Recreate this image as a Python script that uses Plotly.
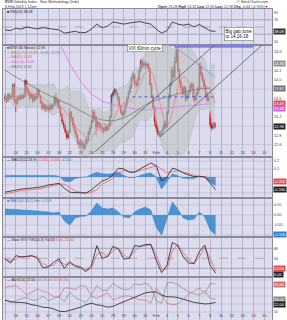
import plotly.graph_objects as go
import pandas as pd

W, H = 287, 320
PL, PR = 3, 272  # plot area left/right in px

day_labels = ["11", "14", "15", "16", "17", "18", "22", "23", "24", "25", "28", "29", "30", "31",
              "Feb", "4", "5", "6", "7", "8", "11", "12", "13", "14", "15"]
BARS_PER_DAY = 7

closes = [
    13.62, 13.55, 13.68, 13.60, 13.64, 13.88, 13.55,
    13.48, 13.62, 13.58, 13.66, 13.60, 13.64, 13.98,
    13.80, 13.72, 13.62, 13.68, 13.55, 13.64, 13.60,
    13.78, 13.66, 13.52, 13.40, 13.46, 13.36, 13.42,
    13.36, 13.44, 13.38, 13.46, 13.62, 13.50, 13.56,
    13.40, 13.26, 13.10, 13.02, 12.88, 12.76, 12.86,
    13.30, 13.18, 13.02, 12.90, 12.80, 12.66, 12.60,
    12.66, 12.58, 12.52, 12.62, 12.70, 12.84, 12.96,
    13.10, 13.30, 13.20, 12.98, 13.08, 13.02, 12.96,
    12.94, 12.90, 12.98, 12.92, 13.00, 13.20, 13.66,
    13.72, 13.78, 13.70, 13.62, 13.44, 13.30, 13.24,
    13.30, 13.46, 13.60, 13.72, 13.84, 14.04, 14.12,
    13.92, 13.88, 14.00, 14.20, 14.40, 14.30, 14.36,
    14.30, 14.34, 14.24, 13.90, 13.64, 13.40, 13.10,
    12.96, 12.86, 12.80, 12.84, 12.92, 13.04, 12.98,
    13.30, 13.62, 13.90, 14.20, 14.06, 14.40, 14.64,
    14.22, 13.96, 13.82, 13.70, 13.84, 13.58, 13.66,
    13.74, 13.86, 13.90, 13.62, 13.56, 13.70, 13.80,
    14.30, 14.12, 14.00, 13.86, 13.70, 13.56, 13.62,
    13.02, 12.96, 13.06, 12.98,
]
highs = [
    13.70, 13.66, 13.72, 13.70, 13.68, 13.92, 13.93,
    13.58, 13.66, 13.66, 13.70, 13.68, 13.70, 14.01,
    13.98, 13.84, 13.76, 13.72, 13.70, 13.68, 13.70,
    13.82, 13.80, 13.68, 13.55, 13.50, 13.48, 13.46,
    13.46, 13.48, 13.46, 13.50, 13.66, 13.72, 13.62,
    13.58, 13.42, 13.28, 13.14, 13.04, 12.92, 12.92,
    13.38, 13.32, 13.20, 13.06, 12.94, 12.84, 12.72,
    12.72, 12.70, 12.64, 12.72, 12.78, 12.90, 13.02,
    13.14, 13.36, 13.34, 13.22, 13.12, 13.10, 13.06,
    13.02, 12.98, 13.04, 13.00, 13.06, 13.24, 13.70,
    13.76, 13.82, 13.80, 13.74, 13.64, 13.46, 13.34,
    13.36, 13.50, 13.64, 13.76, 13.90, 14.08, 14.18,
    14.14, 13.98, 14.06, 14.26, 14.44, 14.46, 14.40,
    14.40, 14.38, 14.36, 14.28, 13.94, 13.68, 13.44,
    13.14, 13.00, 12.90, 12.90, 12.98, 13.12, 13.10,
    13.34, 13.70, 13.96, 14.28, 14.30, 14.50, 14.72,
    14.66, 14.24, 14.00, 13.86, 13.88, 13.86, 13.72,
    13.78, 13.92, 13.96, 13.94, 13.66, 13.74, 13.86,
    14.36, 14.38, 14.16, 14.04, 13.92, 13.74, 13.68,
    13.32, 13.08, 13.10, 13.08,
]
lows = [
    13.52, 13.50, 13.53, 13.56, 13.57, 13.62, 13.50,
    13.30, 13.45, 13.54, 13.56, 13.56, 13.58, 13.62,
    13.72, 13.66, 13.55, 13.58, 13.50, 13.52, 13.55,
    13.58, 13.62, 13.48, 13.34, 13.36, 13.30, 13.34,
    13.30, 13.32, 13.33, 13.36, 13.44, 13.46, 13.40,
    13.36, 13.20, 13.04, 12.94, 12.84, 12.70, 12.72,
    12.84, 13.10, 12.96, 12.84, 12.74, 12.60, 12.52,
    12.52, 12.48, 12.46, 12.50, 12.60, 12.66, 12.80,
    12.94, 13.06, 13.12, 12.80, 12.94, 12.96, 12.90,
    12.86, 12.84, 12.88, 12.86, 12.90, 12.98, 13.18,
    13.60, 13.66, 13.64, 13.54, 13.40, 13.26, 13.18,
    13.20, 13.26, 13.42, 13.56, 13.68, 13.80, 13.98,
    13.86, 13.82, 13.86, 13.98, 14.16, 14.24, 14.26,
    14.22, 14.24, 14.18, 13.86, 13.60, 13.36, 13.00,
    12.90, 12.80, 12.76, 12.78, 12.82, 12.90, 12.94,
    12.96, 13.26, 13.58, 13.86, 13.98, 14.02, 14.36,
    14.16, 13.92, 13.76, 13.66, 13.66, 13.52, 13.54,
    13.60, 13.70, 13.80, 13.54, 13.50, 13.54, 13.66,
    13.78, 14.06, 13.94, 13.80, 13.62, 13.50, 13.52,
    12.96, 12.90, 12.94, 12.95,
]
first_open = 13.60
gap_open_bar = 133
gap_open_price = 13.28

# longer moving averages (one value per day)
ma50_day = [14.21, 14.06, 13.93, 13.80, 13.67, 13.56, 13.46, 13.33, 13.20, 13.13,
            13.11, 13.17, 13.30, 13.46, 13.56, 13.63, 13.69, 13.76, 13.80, 13.82]
ma200_day = [16.60, 16.20, 15.80, 15.45, 15.10, 14.82, 14.34, 13.97, 13.69, 13.54,
             13.46, 13.41, 13.37, 13.35, 13.37, 13.39, 13.41, 13.43, 13.46, 13.48]

# indicators, two readings per day
rsi = [42, 40, 47, 44, 50, 47, 45, 48, 46, 45, 42, 33, 36, 38, 34, 35, 44, 58, 48, 52,
       64, 62, 58, 61, 63, 65, 61, 58, 44, 33, 40, 64, 58, 55, 58, 50, 57, 47, 39, 38.08]
macd = [-0.19, -0.175, -0.16, -0.15, -0.145, -0.14, -0.13, -0.12, -0.10, -0.09,
        -0.08, -0.14, -0.19, -0.195, -0.195, -0.20, -0.16, -0.10, -0.05, -0.025,
        0.025, 0.11, 0.10, 0.06, 0.06, 0.10, 0.14, 0.175, 0.14, -0.05,
        0.0, 0.11, 0.09, 0.05, 0.025, 0.005, 0.01, 0.0, -0.075, -0.16]
macd_signal = [-0.21, -0.195, -0.18, -0.17, -0.165, -0.16, -0.15, -0.14, -0.125, -0.11,
               -0.09, -0.09, -0.13, -0.175, -0.19, -0.20, -0.19, -0.16, -0.09, -0.06,
               -0.02, 0.05, 0.08, 0.07, 0.065, 0.08, 0.10, 0.125, 0.14, 0.10,
               0.05, 0.07, 0.075, 0.065, 0.045, 0.025, 0.0, 0.005, -0.01, -0.05]
hist2 = [0.030, 0.030, 0.028, 0.025, 0.025, 0.022, 0.020, 0.018, 0.015, 0.010,
         0.015, -0.030, -0.050, -0.015, -0.008, -0.005, 0.020, 0.060, 0.035, 0.030,
         0.035, 0.015, -0.010, -0.015, 0.015, 0.030, 0.040, 0.025, -0.060, -0.100,
         -0.020, 0.065, 0.030, -0.015, -0.025, -0.020, 0.015, -0.010, -0.075, -0.100]
stoch_k = [48, 36, 58, 54, 56, 58, 50, 22, 24, 38, 48, 20, 40, 26, 22, 10, 28, 88, 50, 55,
           86, 78, 48, 50, 88, 86, 91, 92, 45, 7, 30, 98, 88, 55, 36, 34, 70, 90, 28, 6]
stoch_d = [50, 42, 48, 55, 55, 57, 54, 35, 26, 30, 42, 32, 34, 30, 25, 15, 20, 62, 68, 55,
           72, 82, 60, 50, 72, 86, 89, 91, 62, 18, 18, 72, 92, 70, 45, 35, 55, 82, 50, 12]
di_minus = [41, 42, 43, 38, 31, 35, 39, 36, 34, 29, 28, 40, 40, 38, 43, 42, 30, 27, 30, 34,
            25, 28, 30, 30, 27, 25, 25, 21, 40, 32, 21, 19, 20, 26, 32, 36, 40, 32, 46, 45]
di_plus = [25, 22, 24, 27, 28, 25, 25, 30, 24, 27, 30, 23, 35, 28, 25, 22, 31, 43, 37, 37,
           46, 41, 38, 38, 45, 44, 46, 42, 24, 21, 47, 47, 44, 40, 35, 33, 31, 37, 27, 26]
adx = [25, 23, 22, 22, 21, 19, 18, 16, 15.5, 14, 11, 10.5, 12, 14, 16, 19, 21, 19, 18, 16,
       17, 20, 23, 25, 28, 31, 34, 35, 35, 31, 29, 29, 28, 26, 24, 22, 21, 20, 20.5, 22]
IND_STEP = 0.5

# hand-drawn annotation lines (day, price)
channel_upper = ([8.33, 19.9], [12.44, 14.86])
channel_lower = ([14.35, 23.8], [12.76, 14.75])
peak_level = ([15.7, 23.0], [14.71, 14.71])
peak_fall = ([15.74, 19.44], [14.71, 14.06])
mid_level = ([11.8, 19.5], [13.63, 13.63])

# ---------------------------------------------------------------- derived
n = len(closes)
xb = [i / BARS_PER_DAY for i in range(n)]
opens = [first_open] + closes[:-1]
opens[gap_open_bar] = gap_open_price
hi = [max(h, o, c) for h, o, c in zip(highs, opens, closes)]
lo = [min(l, o, c) for l, o, c in zip(lows, opens, closes)]
s = pd.Series(closes)
ma10 = s.rolling(10, min_periods=1).mean()
bb_mid = s.rolling(20, min_periods=1).mean()
bb_sd = s.rolling(20, min_periods=2).std(ddof=0).fillna(0.05)
bb_up = bb_mid + 2 * bb_sd
bb_lo = bb_mid - 2 * bb_sd
xd = list(range(len(ma50_day)))
xi = [k * IND_STEP for k in range(len(rsi))]
hist1 = [m - sg for m, sg in zip(macd, macd_signal)]
last = closes[-1]

# ---------------------------------------------------------------- layout helpers
def yf(py):
    return 1 - py / H

def xf(px):
    return px / W

panels = [  # name, top px, bottom px, y range
    ("rsi", 9, 45, [0, 100]),
    ("main", 45, 157, [12.33, 14.752]),
    ("macd", 157, 198, [-0.2625, 0.25]),
    ("h2", 198, 237, [-0.11, 0.085]),
    ("sto", 237, 277, [-6, 114]),
    ("adx", 277, 320, [0, 53.75]),
]
XR = [(PL - 5) / 10.8, (PR - 5) / 10.8]
FONT = "Liberation Sans"
BG = "#dcdcee"
GRID = "rgba(150,150,175,0.55)"

tick_sets = {
    "rsi": [10, 30, 50, 70, 90],
    "main": [round(12.4 + 0.2 * i, 1) for i in range(12)],
    "macd": [-0.2, -0.1, 0.0, 0.1, 0.2],
    "h2": [-0.1, -0.05, 0.0, 0.05],
    "sto": [20, 50, 80],
    "adx": [10, 20, 30, 40, 50],
}
tick_fmt = {"rsi": "{:.0f}", "main": "{:.1f}", "macd": "{:.1f}", "h2": "{:.2f}",
            "sto": "{:.0f}", "adx": "{:.0f}"}

# value boxes shown on the right axis: panel -> list of (value, text, colour)
boxes = {
    "rsi": [(rsi[-1], f"{rsi[-1]:.2f}", "#333")],
    "main": [(bb_up.iloc[-1], f"{bb_up.iloc[-1]:.2f}", "#909090"),
             (ma50_day[-1], f"{ma50_day[-1]:.2f}", "#707070"),
             (ma10.iloc[-1], f"{ma10.iloc[-1]:.2f}", "#e05050"),
             (ma200_day[-1], f"{ma200_day[-1]:.2f}", "#d060d0"),
             (last, f"{last:.2f}", "#222")],
    "macd": [(macd_signal[-1], f"{macd_signal[-1]:.3f}", "#e05050"),
             (macd[-1], f"{macd[-1]:.3f}", "#222")],
    "h2": [(hist2[-1], f"{hist2[-1]:.3f}", "#3080c0")],
    "sto": [(stoch_d[-1], f"{stoch_d[-1]:.2f}", "#e05050"),
            (stoch_k[-1], f"{stoch_k[-1]:.2f}", "#222")],
    "adx": [(di_minus[-1], f"{di_minus[-1]:.2f}", "#d07070"),
            (di_plus[-1], f"{di_plus[-1]:.2f}", "#888"),
            (adx[-1], f"{adx[-1]:.2f}", "#222")],
}

layout = dict(width=W, height=H, margin=dict(l=0, r=0, t=0, b=0),
              paper_bgcolor="white", plot_bgcolor=BG, showlegend=False,
              font=dict(family=FONT, size=4, color="#333"))
ann = []
BOX_H = 5.4
for i, (name, top, bot, yr) in enumerate(panels, start=1):
    xa = "xaxis" if i == 1 else f"xaxis{i}"
    ya = "yaxis" if i == 1 else f"yaxis{i}"
    show_x = name in ("main", "adx")
    to_px = lambda v, top=top, bot=bot, yr=yr: top + (yr[1] - v) / (yr[1] - yr[0]) * (bot - top)
    # keep value boxes inside the panel and apart from one another (pixel space)
    lo_lim, hi_lim = top + 3, bot - 3
    bl = sorted([[min(max(to_px(v), lo_lim), hi_lim), t, c] for v, t, c in boxes[name]],
                key=lambda b: b[0])
    for j in range(1, len(bl)):
        if bl[j][0] - bl[j - 1][0] < BOX_H:
            bl[j][0] = bl[j - 1][0] + BOX_H
    if bl and bl[-1][0] > hi_lim:
        bl[-1][0] = hi_lim
        for j in range(len(bl) - 2, -1, -1):
            if bl[j + 1][0] - bl[j][0] < BOX_H:
                bl[j][0] = bl[j + 1][0] - BOX_H
    for py, t, c in bl:
        ann.append(dict(x=xf(PR + 1), y=yf(py), xref="paper", yref="paper", text=t, showarrow=False,
                        xanchor="left", yanchor="middle", font=dict(size=4, color="white", family=FONT),
                        bgcolor=c, borderpad=0))
    tv = [v for v in tick_sets[name]
          if yr[0] < v < yr[1] and all(abs(to_px(v) - b[0]) > 5.0 for b in bl)]
    layout[xa] = dict(domain=[xf(PL), xf(PR)], anchor="y" if i == 1 else f"y{i}",
                      range=XR, tickvals=list(range(len(day_labels))), ticktext=day_labels,
                      showticklabels=show_x, ticklabelposition="inside", ticks="",
                      tickfont=dict(size=4, color="#444"),
                      showgrid=True, gridcolor=GRID, gridwidth=0.5, zeroline=False,
                      showline=True, linecolor="#8a8a9a", linewidth=0.7, mirror=True,
                      rangeslider=dict(visible=False), fixedrange=True)
    layout[ya] = dict(domain=[yf(bot), yf(top)], anchor="x" if i == 1 else f"x{i}",
                      range=yr, side="right", tickvals=tv,
                      ticktext=[tick_fmt[name].format(v) for v in tv], ticks="",
                      tickfont=dict(size=4, color="#444"),
                      showgrid=False, zeroline=False, showline=True, linecolor="#8a8a9a",
                      linewidth=0.7, mirror=True, fixedrange=True)

shapes = []
def hline(axis_i, val, color, dash="solid", width=0.7):
    xr = "x domain" if axis_i == 1 else f"x{axis_i} domain"
    yr = "y" if axis_i == 1 else f"y{axis_i}"
    shapes.append(dict(type="line", xref=xr, x0=0, x1=1, yref=yr, y0=val, y1=val,
                       line=dict(color=color, width=width, dash=dash), layer="below"))

for v in (70, 30):
    hline(1, v, "#8c8ca0")
hline(1, 50, "#9a9aae", "dash")
for v in (12.6, 13.0, 13.4, 13.8, 14.2, 14.6):
    hline(2, v, GRID, width=0.5)
for v in (0.2, 0.1, 0.0, -0.1, -0.2):
    hline(3, v, GRID, width=0.5)
for v in (0.05, 0.0, -0.05, -0.1):
    hline(4, v, GRID, width=0.5)
for v in (80, 20):
    hline(5, v, "#8c8ca0")
hline(5, 50, "#9a9aae", "dash")
for v in (10, 20, 30, 40, 50):
    hline(6, v, GRID, width=0.5)

fig = go.Figure()
# ---------------------------------------------------------------- RSI
fig.add_trace(go.Scatter(x=xi, y=rsi, mode="lines", line=dict(color="#222", width=0.8),
                         xaxis="x", yaxis="y"))

# ---------------------------------------------------------------- main
fig.add_trace(go.Scatter(x=xb, y=bb_up, mode="lines", line=dict(color="#a8aeb0", width=0.4),
                         xaxis="x2", yaxis="y2"))
fig.add_trace(go.Scatter(x=xb, y=bb_lo, mode="lines", line=dict(color="#a8aeb0", width=0.4),
                         fill="tonexty", fillcolor="rgba(188,194,192,0.55)", xaxis="x2", yaxis="y2"))
fig.add_trace(go.Scatter(x=xd, y=ma200_day, mode="lines", line=dict(color="#e77ee7", width=0.9),
                         xaxis="x2", yaxis="y2"))
fig.add_trace(go.Scatter(x=xd, y=ma50_day, mode="lines", line=dict(color="#6e6e6e", width=0.7),
                         xaxis="x2", yaxis="y2"))
fig.add_trace(go.Scatter(x=xb, y=ma10, mode="lines", line=dict(color="#ee7070", width=0.7),
                         xaxis="x2", yaxis="y2"))
fig.add_trace(go.Scatter(x=mid_level[0], y=mid_level[1], mode="lines",
                         line=dict(color="#3c3cff", width=0.8, dash="dot"), xaxis="x2", yaxis="y2"))
fig.add_trace(go.Candlestick(x=xb, open=opens, high=hi, low=lo, close=closes,
                             increasing=dict(line=dict(color="#333333", width=0.7), fillcolor="#a8a8a8"),
                             decreasing=dict(line=dict(color="#d40000", width=0.7), fillcolor="#d40000"),
                             whiskerwidth=0, xaxis="x2", yaxis="y2"))
for xs, ys, col, wd in ((channel_upper[0], channel_upper[1], "#303030", 0.6),
                        (channel_lower[0], channel_lower[1], "#303030", 0.6),
                        (peak_level[0], peak_level[1], "#5a5aff", 1.3),
                        (peak_fall[0], peak_fall[1], "#8888e8", 0.8)):
    fig.add_trace(go.Scatter(x=xs, y=ys, mode="lines", line=dict(color=col, width=wd),
                             xaxis="x2", yaxis="y2"))

# ---------------------------------------------------------------- MACD
fig.add_trace(go.Scatter(x=xi, y=hist1, mode="lines", line=dict(color="#2f7fc0", width=0.5),
                         fill="tozeroy", fillcolor="rgba(60,140,205,0.9)", xaxis="x3", yaxis="y3"))
fig.add_trace(go.Scatter(x=xi, y=macd_signal, mode="lines", line=dict(color="#ee6060", width=0.8),
                         xaxis="x3", yaxis="y3"))
fig.add_trace(go.Scatter(x=xi, y=macd, mode="lines", line=dict(color="#222", width=0.8),
                         xaxis="x3", yaxis="y3"))

# ---------------------------------------------------------------- hist 2
fig.add_trace(go.Scatter(x=xi, y=hist2, mode="lines", line=dict(color="#2f7fc0", width=0.5),
                         fill="tozeroy", fillcolor="rgba(60,140,205,0.9)", xaxis="x4", yaxis="y4"))

# ---------------------------------------------------------------- stochastics
fig.add_trace(go.Scatter(x=xi, y=stoch_d, mode="lines", line=dict(color="#ee6060", width=0.8),
                         xaxis="x5", yaxis="y5"))
fig.add_trace(go.Scatter(x=xi, y=stoch_k, mode="lines", line=dict(color="#222", width=0.8),
                         xaxis="x5", yaxis="y5"))

# ---------------------------------------------------------------- ADX
fig.add_trace(go.Scatter(x=xi, y=di_minus, mode="lines", line=dict(color="#d07070", width=0.7),
                         xaxis="x6", yaxis="y6"))
fig.add_trace(go.Scatter(x=xi, y=di_plus, mode="lines", line=dict(color="#8a8a8a", width=0.7),
                         xaxis="x6", yaxis="y6"))
fig.add_trace(go.Scatter(x=xi, y=adx, mode="lines", line=dict(color="#222", width=0.8),
                         xaxis="x6", yaxis="y6"))

# ---------------------------------------------------------------- texts
def txt(px, py, text, size=3.6, color="#333", anchor="left"):
    ann.append(dict(x=xf(px), y=yf(py), xref="paper", yref="paper", text=text, showarrow=False,
                    xanchor=anchor, yanchor="middle", font=dict(size=size, color=color, family=FONT)))

day_start = 19 * BARS_PER_DAY
d_open = opens[day_start]
d_high = max(hi[day_start:])
d_low = min(lo[day_start:])
prev = closes[day_start - 1]
chg = last - prev
txt(3, 2.3, "<b>$VIX</b> Volatility Index - New Methodology (Indx)")
txt(270, 2.3, "© StockCharts.com", anchor="right")
txt(3, 6.6, "8-Feb-2013 1:12pm")
txt(270, 6.6, f"<b>Open</b> {d_open:.2f} <b>High</b> {d_high:.2f} <b>Low</b> {d_low:.2f} "
              f"<b>Last</b> {last:.2f} <b>Chg</b> {chg:.2f} ({chg / prev * 100:.2f}%)"
              "<span style='color:#d00000'>▼</span>", anchor="right")
txt(5, 11.6, f"■ RSI(14) {rsi[-1]:.2f}", color="#222")

legend_rows = [
    (f"■ $VIX (60 Minute) {last:.2f}", "#222"),
    (f"— BB(20,2.0) {bb_mid.iloc[-1]:.2f} - {bb_up.iloc[-1]:.2f} - {bb_lo.iloc[-1]:.2f}", "#808080"),
    (f"— MA(10) {ma10.iloc[-1]:.2f}", "#e05050"),
    (f"— MA(200) {ma200_day[-1]:.2f}", "#d060d0"),
    (f"— MA(50) {ma50_day[-1]:.2f}", "#707070"),
]
for r, (t, c) in enumerate(legend_rows):
    txt(5, 48 + 4.7 * r, t, size=3.4, color=c)

txt(5, 159.8, f"— MACD(12,26,9) <span style='color:#e05050'>{macd[-1]:.3f}, {macd_signal[-1]:.3f}</span>"
              f" <span style='color:#3080c0'>{hist1[-1]:.3f}</span>", color="#222")
txt(5, 200.8, f"■ MACD(5,35,5) Hist {hist2[-1]:.3f}", color="#3080c0")
txt(5, 239.8, f"— Slow STO %K(14,3) %D(3) <span style='color:#e05050'>{stoch_k[-1]:.2f}, {stoch_d[-1]:.2f}</span>",
    color="#222")
txt(5, 279.8, f"— ADX(14) {adx[-1]:.2f} <span style='color:#888'>+DI {di_plus[-1]:.2f}</span>"
              f" <span style='color:#d07070'>-DI {di_minus[-1]:.2f}</span>", color="#222")

# note boxes
ann.append(dict(x=xf(145), y=yf(47.5), xref="paper", yref="paper", text="VIX 60min cycle",
                showarrow=False, xanchor="center", yanchor="middle",
                font=dict(size=4.5, color="#111", family=FONT), bgcolor="white",
                bordercolor="#777", borderwidth=0.6, borderpad=1))
ann.append(dict(x=xf(239), y=yf(33.5), xref="paper", yref="paper", text="Big gap zone<br>to 14.16-18",
                showarrow=False, xanchor="center", yanchor="middle", align="left",
                font=dict(size=4.5, color="#111", family=FONT), bgcolor="white",
                bordercolor="#777", borderwidth=0.6, borderpad=1))

layout["shapes"] = shapes
layout["annotations"] = ann
fig.update_layout(**layout)
fig.write_html("out.html")
